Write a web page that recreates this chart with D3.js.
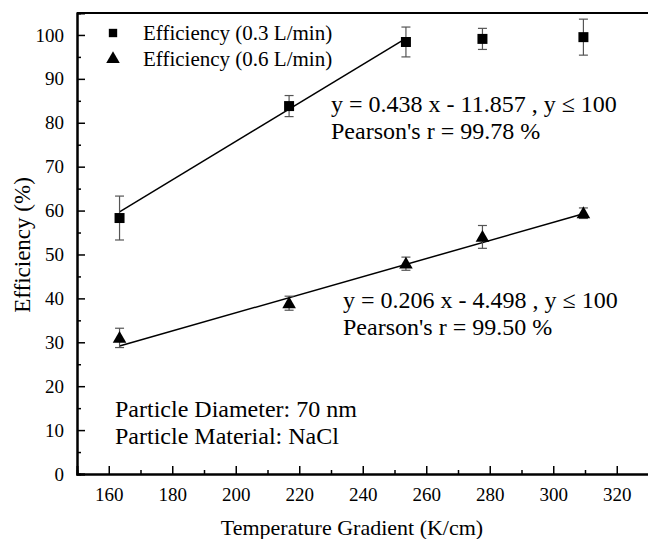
<!DOCTYPE html>
<html><head><meta charset="utf-8">
<script src="https://cdn.jsdelivr.net/npm/d3@7"></script>
<style>
html,body{margin:0;padding:0;background:#fff;overflow:hidden}
svg text{font-family:"Liberation Serif","Times New Roman",Times,serif;fill:#000}
</style>
</head><body>
<svg id="c" width="648" height="539"></svg>
<script>
// ---- data ----
const gradient = [163.4, 216.8, 253.6, 277.7, 309.5];
const eff03 = [58.3, 83.8, 98.4, 99.1, 99.5];
const err03 = [5.0, 2.4, 3.4, 2.4, 4.1];
const eff06 = [31.0, 38.9, 47.9, 54.0, 59.4];
const err06 = [2.2, 1.6, 1.5, 2.6, 1.2];
const fit03 = {slope: 0.438, intercept: -11.857, from: 163.4, to: 253.6};
const fit06 = {slope: 0.206, intercept: -4.498, from: 163.4, to: 309.5};
const xTicks = [160, 180, 200, 220, 240, 260, 280, 300, 320];
const yTicks = [0, 10, 20, 30, 40, 50, 60, 70, 80, 90, 100];
const legendLabels = ["Efficiency (0.3 L/min)", "Efficiency (0.6 L/min)"];
const fitTexts03 = ["y = 0.438 x - 11.857 , y \u2264 100", "Pearson's r = 99.78 %"];
const fitTexts06 = ["y = 0.206 x - 4.498 , y \u2264 100", "Pearson's r = 99.50 %"];
const noteTexts = ["Particle Diameter: 70 nm", "Particle Material: NaCl"];

const svg = d3.select("#c");
const L = 77, B = 474, T = 13;
const x = d3.scaleLinear().domain([150, 330]).range([L, L + 180 * 3.175]);
const y = d3.scaleLinear().domain([0, 105]).range([B, T]);

// axes
const xAxis = d3.axisBottom(x).tickValues(xTicks).tickSize(-8).tickPadding(14).tickFormat(d3.format("d"));
const xMinor = d3.axisBottom(x).tickValues(d3.range(170, 330, 20)).tickSize(-4).tickFormat("");
const yAxis = d3.axisLeft(y).tickValues(yTicks).tickSize(-8).tickPadding(13).tickFormat(d3.format("d"));
const yMinor = d3.axisLeft(y).tickValues(d3.range(5, 105, 10)).tickSize(-4).tickFormat("");

function styleAxis(g) {
  g.attr("font-family", null);
  g.select(".domain").attr("stroke", "#000").attr("stroke-width", 2);
  g.selectAll(".tick line").attr("stroke", "#000").attr("stroke-width", 1.5);
  g.selectAll(".tick text").style("font-size", "19px");
}
svg.append("g").attr("transform", `translate(0,${B})`).call(xMinor).call(styleAxis);
svg.append("g").attr("transform", `translate(0,${B})`).call(xAxis).call(styleAxis);
svg.append("g").attr("transform", `translate(${L},0)`).call(yMinor).call(styleAxis);
svg.append("g").attr("transform", `translate(${L},0)`).call(yAxis).call(styleAxis);
// top border
svg.append("line").attr("x1", L).attr("x2", 648).attr("y1", T).attr("y2", T)
  .attr("stroke", "#000").attr("stroke-width", 2);

// fit lines
[fit03, fit06].forEach(f => {
  svg.append("line")
    .attr("x1", x(f.from)).attr("y1", y(f.slope * f.from + f.intercept))
    .attr("x2", x(f.to)).attr("y2", y(f.slope * f.to + f.intercept))
    .attr("stroke", "#000").attr("stroke-width", 1.5);
});

// error bars
function errorBars(vals, errs) {
  const g = svg.append("g").attr("stroke", "#555").attr("stroke-width", 1.2);
  gradient.forEach((gx, i) => {
    const cx = x(gx), y1 = y(vals[i] + errs[i]), y2 = y(vals[i] - errs[i]);
    g.append("line").attr("x1", cx).attr("x2", cx).attr("y1", y1).attr("y2", y2);
    g.append("line").attr("x1", cx - 4.5).attr("x2", cx + 4.5).attr("y1", y1).attr("y2", y1);
    g.append("line").attr("x1", cx - 4.5).attr("x2", cx + 4.5).attr("y1", y2).attr("y2", y2);
  });
}
errorBars(eff03, err03);
errorBars(eff06, err06);

const sq = d3.symbol().type(d3.symbolSquare).size(100);
const tri = d3.symbol().type(d3.symbolTriangle).size(80);
svg.append("g").selectAll("path").data(eff03).join("path")
  .attr("d", sq).attr("transform", (d, i) => `translate(${x(gradient[i])},${y(d)})`).attr("fill", "#000");
svg.append("g").selectAll("path").data(eff06).join("path")
  .attr("d", tri).attr("transform", (d, i) => `translate(${x(gradient[i])},${y(d) + 1})`).attr("fill", "#000");

// legend
const lg = svg.append("g");
lg.append("path").attr("d", d3.symbol().type(d3.symbolSquare).size(70)).attr("transform", "translate(113,33)");
lg.append("path").attr("d", d3.symbol().type(d3.symbolTriangle).size(80)).attr("transform", "translate(113,59)");
legendLabels.forEach((t, i) => {
  lg.append("text").attr("x", 143).attr("y", 33 + 26 * i).attr("dy", "0.35em")
    .style("font-size", "21px").text(t);
});

function textBlock(lines, x0, y0, size, gap) {
  lines.forEach((t, i) => {
    svg.append("text").attr("x", x0).attr("y", y0 + gap * i).attr("dy", "0.35em")
      .style("font-size", size + "px").text(t);
  });
}
textBlock(fitTexts03, 331, 104, 24, 27);
textBlock(fitTexts06, 343, 300, 24, 27);
textBlock(noteTexts, 115, 409, 24, 27);

// axis titles
svg.append("text").attr("x", 352).attr("y", 527).attr("dy", "0.35em").attr("text-anchor", "middle")
  .style("font-size", "22px").text("Temperature Gradient (K/cm)");
svg.append("text").attr("transform", "translate(22,245) rotate(-90)").attr("dy", "0.35em")
  .attr("text-anchor", "middle").style("font-size", "23px").text("Efficiency (%)");
</script>
</body></html>
